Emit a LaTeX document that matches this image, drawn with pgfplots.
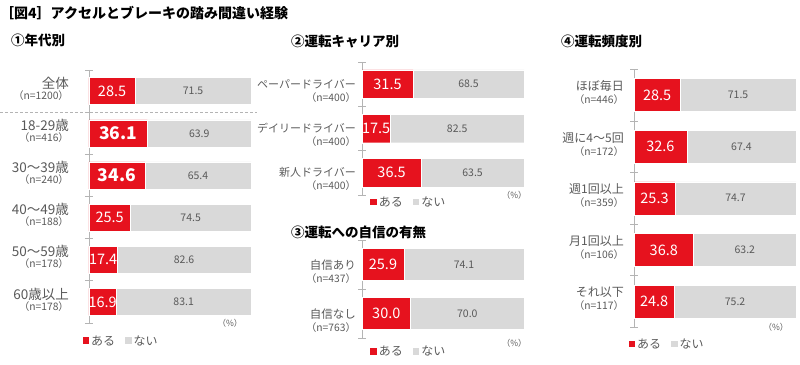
\documentclass[border=0pt]{standalone}
\usepackage{fontspec}
\setmainfont{Noto Sans CJK JP}
\usepackage{pgfplots}
\usepackage{pgfplotstable}
\pgfplotsset{compat=1.18}

\definecolor{ared}{RGB}{230,18,30}
\definecolor{agray}{RGB}{217,217,217}
\definecolor{tgray}{RGB}{89,89,89}
\definecolor{lgray}{RGB}{180,180,180}

\pgfplotstableread{
y yes no
0 28.5 71.5
1 36.1 63.9
2 34.6 65.4
3 25.5 74.5
4 17.4 82.6
5 16.9 83.1
}\tabA
\pgfplotstableread{
y yes no
0 31.5 68.5
1 17.5 82.5
2 36.5 63.5
}\tabB
\pgfplotstableread{
y yes no
0 25.9 74.1
1 30.0 70.0
}\tabC
\pgfplotstableread{
y yes no
0 28.5 71.5
1 32.6 67.4
2 25.3 74.7
3 36.8 63.2
4 24.8 75.2
}\tabD

\newcommand\nn[1]{{\fontsize{10.3}{11}\selectfont （n=#1）}}

\pgfplotsset{
  panel/.style={
    xbar stacked,
    y dir=reverse,
    x=1.62pt,
    xmin=0, xmax=100,
    enlargelimits=false,
    hide x axis,
    axis y line*=left,
    axis line style={draw=lgray, line width=0.8pt},
    major tick length=0pt,
    minor tick length=8pt,
    tick align=center,
    minor tick style={draw=lgray, line width=0.8pt},
    yticklabel style={align=right, text=tgray, inner sep=0pt},
    clip=false,
    legend style={draw=none, fill=none, inner sep=0pt, font=\fontsize{12}{12}\selectfont, text=tgray, anchor=west, legend columns=2,
      /tikz/every even column/.append style={column sep=8pt}},
    legend image code/.code={\fill[##1,draw=none] (0pt,-3pt) rectangle (6.5pt,3.5pt);},
  },
  redplot/.style={forget plot, fill=ared, draw=white, line width=0.4pt,
    nodes near coords={\ifdim\pgfplotspointmeta pt>#1pt \fontsize{17.5}{17.5}\selectfont\bfseries\fi\pgfplotspointmeta},
    point meta=explicit symbolic,
    every node near coord/.style={anchor=center, text=white, inner sep=0pt, font=\fontsize{14.5}{15}\selectfont}},
  redplot/.default=100,
  grayplot/.style={forget plot, fill=agray, draw=white, line width=0.4pt,
    nodes near coords={\pgfplotspointmeta},
    point meta=explicit symbolic,
    every node near coord/.style={anchor=center, text=tgray, inner sep=0pt, font=\fontsize{10.5}{11}\selectfont}},
}

\begin{document}
\begin{tikzpicture}
\path[use as bounding box] (0,0) rectangle (800pt,364pt);

\node[anchor=west, inner sep=0pt, font=\fontsize{14}{14}\selectfont\bfseries] at (0pt,351pt) {［図4］アクセルとブレーキの踏み間違い経験};
\node[anchor=west, inner sep=0pt, font=\fontsize{13.5}{14}\selectfont\bfseries] at (11pt,323.3pt) {①年代別};
\node[anchor=west, inner sep=0pt, font=\fontsize{13.5}{14}\selectfont\bfseries] at (291pt,323pt) {②運転キャリア別};
\node[anchor=west, inner sep=0pt, font=\fontsize{13.5}{14}\selectfont\bfseries] at (291pt,131.3pt) {③運転への自信の有無};
\node[anchor=west, inner sep=0pt, font=\fontsize{13.5}{14}\selectfont\bfseries] at (561pt,323pt) {④運転頻度別};

% Panel 1
\begin{axis}[panel, at={(89pt,294pt)}, anchor=north west,
  y=42.17pt, ymin=-0.5, ymax=5.5, bar width=27pt,
  ytick={0,...,5}, minor ytick={-0.5,0.5,...,5.5},
  yticklabels={{全体\\[-3pt]\nn{1200}},{18-29歳\\[-3pt]\nn{416}},{30～39歳\\[-3pt]\nn{240}},{40～49歳\\[-3pt]\nn{188}},{50～59歳\\[-3pt]\nn{178}},{60歳以上\\[-3pt]\nn{178}}},
  yticklabel style={font=\fontsize{13.5}{14}\selectfont, xshift=-20pt, yshift=2.5pt},
  legend style={at={(-0.04,-0.071)}}]
\addplot[redplot=34] table[x=yes, y=y, meta=yes] {\tabA};
\addplot[grayplot] table[x=no, y=y, meta=no] {\tabA};
\addlegendimage{fill=ared}\addlegendentry{ある}
\addlegendimage{fill=agray}\addlegendentry{ない}
\draw[lgray, dash pattern=on 3pt off 2pt, line width=0.7pt] ([xshift=-89pt]axis cs:0,0.5) -- ([xshift=6pt]axis cs:100,0.5);
\node[font=\fontsize{8.5}{9}\selectfont, text=tgray] at (axis description cs:0.87,0) {（\%）};
\end{axis}

% Panel 2
\begin{axis}[panel, at={(362pt,302pt)}, anchor=north west,
  y=44.33pt, ymin=-0.5, ymax=2.5, bar width=28.5pt,
  ytick={0,...,2}, minor ytick={-0.5,0.5,...,2.5},
  yticklabels={{ペーパードライバー\\[1pt]\nn{400}},{デイリードライバー\\[1pt]\nn{400}},{新人ドライバー\\[1pt]\nn{400}}},
  yticklabel style={font=\fontsize{11}{12}\selectfont, xshift=-6pt, yshift=-6.5pt},
  legend style={at={(0.05,-0.053)}}]
\addplot[redplot] table[x=yes, y=y, meta=yes] {\tabB};
\addplot[grayplot] table[x=no, y=y, meta=no] {\tabB};
\addlegendimage{fill=ared}\addlegendentry{ある}
\addlegendimage{fill=agray}\addlegendentry{ない}
\node[font=\fontsize{8.5}{9}\selectfont, text=tgray] at (axis description cs:0.94,0) {（\%）};
\end{axis}

% Panel 3
\begin{axis}[panel, at={(362pt,124pt)}, anchor=north west,
  y=49pt, ymin=-0.5, ymax=1.5, bar width=32pt,
  ytick={0,1}, minor ytick={-0.5,0.5,1.5},
  yticklabels={{自信あり\\[1pt]\nn{437}},{自信なし\\[1pt]\nn{763}}},
  yticklabel style={font=\fontsize{11.5}{12.5}\selectfont, xshift=-6pt, yshift=-7pt},
  legend style={at={(0.05,-0.14)}}]
\addplot[redplot] table[x=yes, y=y, meta=yes] {\tabC};
\addplot[grayplot] table[x=no, y=y, meta=no] {\tabC};
\addlegendimage{fill=ared}\addlegendentry{ある}
\addlegendimage{fill=agray}\addlegendentry{ない}
\node[font=\fontsize{8.5}{9}\selectfont, text=tgray] at (axis description cs:0.94,-0.054) {（\%）};
\end{axis}

% Panel 4
\begin{axis}[panel, at={(634pt,294.7pt)}, anchor=north west,
  y=51.6pt, ymin=-0.5, ymax=4.5, bar width=33pt,
  ytick={0,...,4}, minor ytick={-0.5,0.5,...,4.5},
  yticklabels={{ほぼ毎日\\\nn{446}},{週に4～5回\\\nn{172}},{週1回以上\\\nn{359}},{月1回以上\\\nn{106}},{それ以下\\\nn{117}}},
  yticklabel style={font=\fontsize{12}{13}\selectfont, xshift=-10pt, yshift=2.5pt},
  legend style={at={(-0.035,-0.065)}}]
\addplot[redplot] table[x=yes, y=y, meta=yes] {\tabD};
\addplot[grayplot] table[x=no, y=y, meta=no] {\tabD};
\addlegendimage{fill=ared}\addlegendentry{ある}
\addlegendimage{fill=agray}\addlegendentry{ない}
\node[font=\fontsize{8.5}{9}\selectfont, text=tgray] at (axis description cs:0.876,0) {（\%）};
\end{axis}
\end{tikzpicture}
\end{document}
